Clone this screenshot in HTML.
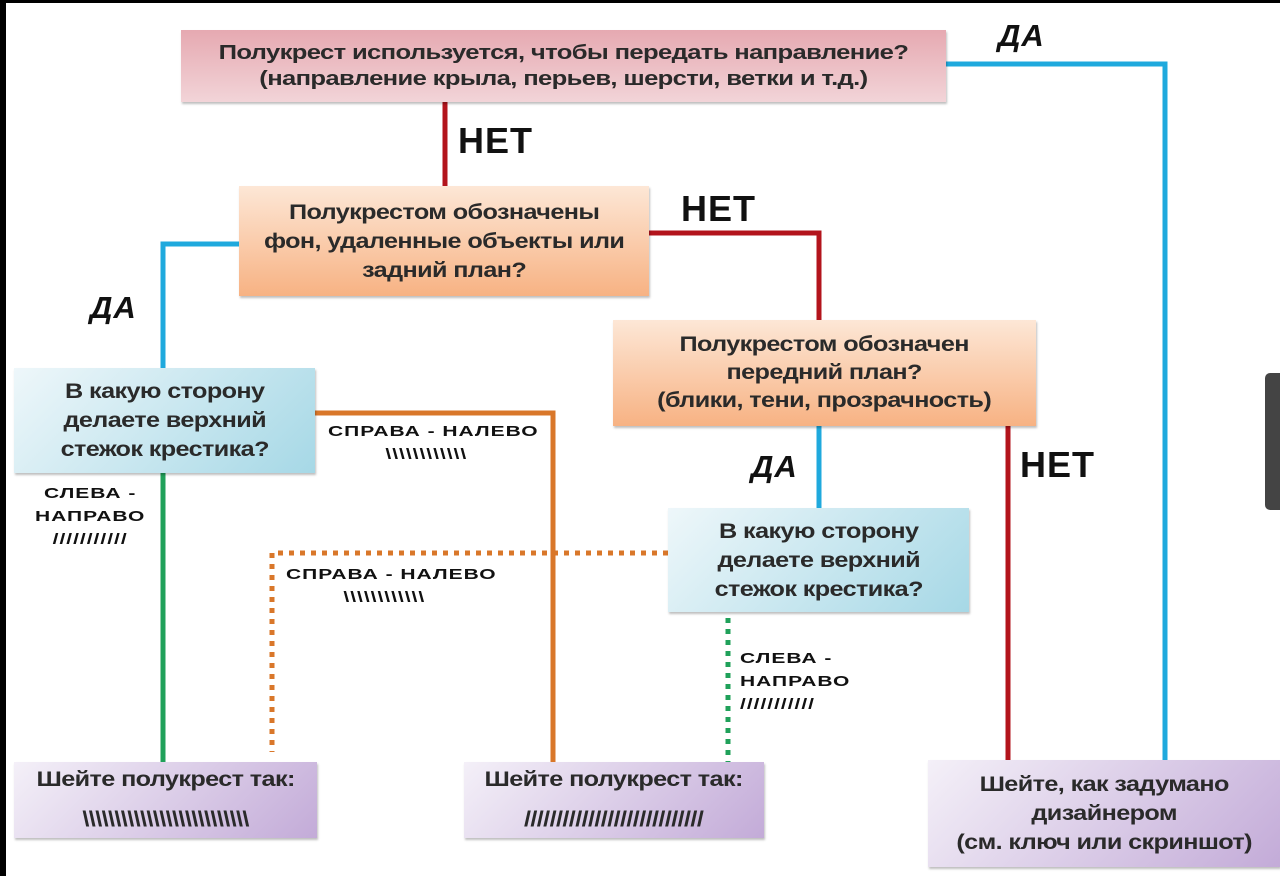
<!DOCTYPE html>
<html><head><meta charset="utf-8"><style>
html,body{margin:0;padding:0}
body{width:1280px;height:876px;position:relative;background:#fff;overflow:hidden;font-family:"Liberation Sans",sans-serif}
.b{position:absolute;box-sizing:border-box;display:flex;align-items:center;justify-content:center;text-align:center;font-weight:bold;color:#2a2a2a;box-shadow:1px 2px 2px rgba(0,0,0,0.25);letter-spacing:-0.5px;white-space:nowrap}
.b span{display:inline-block;transform:scaleX(1.2)}
.pink{background:linear-gradient(#e6a9b1,#f2d4d8)}
.org{background:linear-gradient(#fde7d6,#f7b283)}
.blu{background:linear-gradient(135deg,#eef7fa,#a6d8e6)}
.pur{background:linear-gradient(135deg,#f4f0f8,#c3abd8)}
.t{position:absolute;font-weight:bold;color:#111;white-space:nowrap}
.big{font-size:36px;letter-spacing:1px}
.da{font-size:31px;font-style:italic;letter-spacing:1px}
.sm{font-size:15px;letter-spacing:0.7px;line-height:23px;transform:scaleX(1.4);transform-origin:0 0}
</style></head><body>
<div style="position:absolute;left:0;top:0;width:1280px;height:3px;background:#000"></div>
<div style="position:absolute;left:0;top:0;width:6px;height:876px;background:#000"></div>
<div style="position:absolute;left:1265px;top:373px;width:15px;height:137px;background:#444;border-radius:5px 0 0 5px"></div>

<svg width="1280" height="876" style="position:absolute;left:0;top:0">
<g fill="none" stroke-width="5">
<polyline points="946,64 1165,64 1165,762" stroke="#1fa9dd"/>
<line x1="445" y1="102" x2="445" y2="186" stroke="#b3141c"/>
<polyline points="649,233 819,233 819,320" stroke="#b3141c"/>
<polyline points="239,244 163,244 163,368" stroke="#1fa9dd"/>
<polyline points="315,413 553,413 553,762" stroke="#d9772a"/>
<line x1="163" y1="473" x2="163" y2="762" stroke="#20a15a"/>
<line x1="819" y1="426" x2="819" y2="508" stroke="#1fa9dd"/>
<line x1="1008" y1="426" x2="1008" y2="762" stroke="#b3141c"/>
<polyline points="668,553 272,553 272,752" stroke="#d9772a" stroke-dasharray="5,6"/>
<line x1="728" y1="618" x2="728" y2="762" stroke="#20a15a" stroke-dasharray="5,6"/>
</g></svg>

<div class="b pink" style="left:181px;top:30px;width:765px;height:72px;font-size:20px;line-height:26px"><span style="transform:scaleX(1.28)">Полукрест используется, чтобы передать направление?<br>(направление крыла, перьев, шерсти, ветки и т.д.)</span></div>
<div class="b org" style="left:239px;top:186px;width:410px;height:110px;font-size:21px;line-height:29px"><span>Полукрестом обозначены<br>фон, удаленные объекты или<br>задний план?</span></div>
<div class="b blu" style="left:14px;top:368px;width:301px;height:105px;font-size:21px;line-height:29px"><span>В какую сторону<br>делаете верхний<br>стежок крестика?</span></div>
<div class="b org" style="left:613px;top:320px;width:423px;height:106px;font-size:21px;line-height:28px"><span>Полукрестом обозначен<br>передний план?<br>(блики, тени, прозрачность)</span></div>
<div class="b blu" style="left:668px;top:508px;width:301px;height:104px;font-size:21px;line-height:29px"><span>В какую сторону<br>делаете верхний<br>стежок крестика?</span></div>
<div class="b pur" style="left:14px;top:762px;width:303px;height:76px;font-size:21px;line-height:40px"><span>Шейте полукрест так:<br>\\\\\\\\\\\\\\\\\\\\\\\\\\</span></div>
<div class="b pur" style="left:464px;top:762px;width:300px;height:76px;font-size:21px;line-height:40px"><span>Шейте полукрест так:<br>////////////////////////////</span></div>
<div class="b pur" style="left:928px;top:760px;width:352px;height:107px;font-size:21px;line-height:29px"><span>Шейте, как задумано<br>дизайнером<br>(см. ключ или скриншот)</span></div>

<div class="t big" style="left:458px;top:120px">НЕТ</div>
<div class="t big" style="left:681px;top:188px">НЕТ</div>
<div class="t big" style="left:1020px;top:444px">НЕТ</div>
<div class="t da" style="left:998px;top:18px">ДА</div>
<div class="t da" style="left:90px;top:290px">ДА</div>
<div class="t da" style="left:751px;top:449px">ДА</div>

<div class="t sm" style="left:328px;top:420px;text-align:center">СПРАВА - НАЛЕВО<br><span style="margin-left:-10px">\\\\\\\\\\\\</span></div>
<div class="t sm" style="left:35px;top:482px;text-align:center">СЛЕВА -<br>НАПРАВО<br>///////////</div>
<div class="t sm" style="left:286px;top:563px;text-align:center">СПРАВА - НАЛЕВО<br><span style="margin-left:-10px">\\\\\\\\\\\\</span></div>
<div class="t sm" style="left:740px;top:647px">СЛЕВА -<br>НАПРАВО<br>///////////</div>
</body></html>
